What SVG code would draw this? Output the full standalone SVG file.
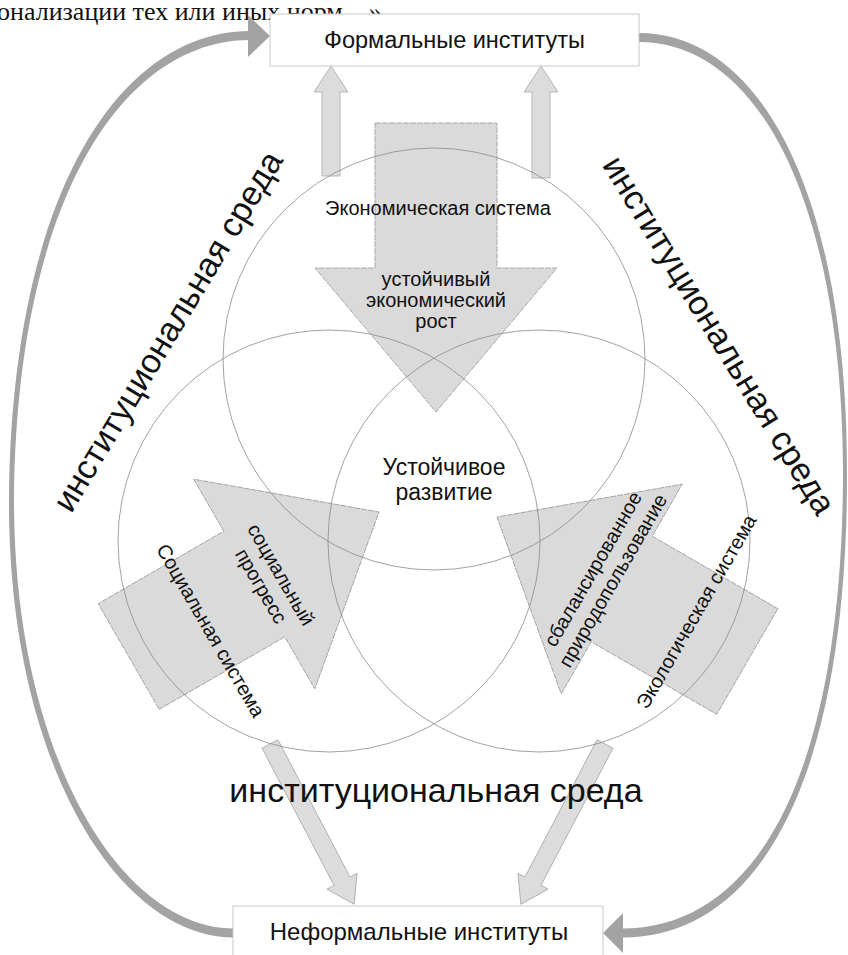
<svg xmlns="http://www.w3.org/2000/svg" width="848" height="955" viewBox="0 0 848 955">
<defs>
<style>
.sans{font-family:"Liberation Sans",Arial,sans-serif;fill:#111}
.lbl{font-size:20px;text-anchor:middle}
.big{font-size:34px;text-anchor:middle}
.box{fill:#fff;stroke:#c8c8c8;stroke-width:1}
.curve{fill:#a3a3a3;stroke:none}
.small{fill:#dcdcdc;stroke:#a8a8a8;stroke-width:0.8}
.bigarrow{fill:#dadada;stroke:#9a9a9a;stroke-width:0.8;stroke-dasharray:6 1}
.circ{fill:none;stroke:#8a8a8a;stroke-width:0.8}
</style>
<polygon id="bigA" points="-61,-289 61,-289 61,-144 121,-144 0,0 -121,-144 -61,-144"/>
</defs>
<rect width="848" height="955" fill="#fff"/>
<text x="-3" y="20" font-family="Liberation Serif, Times New Roman, serif" font-size="26" fill="#111">онализации тех или иных норм ...»</text>

<g id="connectors">
<path class="curve" d="M 250 31 C 118 31, 11 198, 9 500 C 8 762, 118 937.5, 234 937.5 L 234 928.5 C 122 928.5, 14 758, 14 500 C 16 202, 122 40, 250 40 Z"/>
<polygon class="curve" points="248,15 270,36 248,57"/>
<path class="curve" d="M 639 33 C 762 33, 847 198, 847 470 C 848 775, 762 937.5, 622 937.5 L 622 928.5 C 758 928.5, 843 772, 843 470 C 842 202, 758 42, 639 42 Z"/>
<polygon class="curve" points="623,913 603,933 623,953"/>
<polygon class="small" transform="translate(331,176) rotate(-90)" points="0,-9 84,-9 84,-17 110,0 84,17 84,9 0,9"/>
<polygon class="small" transform="translate(541,178) rotate(-90)" points="0,-9 86,-9 86,-17 112,0 86,17 86,9 0,9"/>
<polygon class="small" transform="translate(270,744) rotate(62.3)" points="0,-9 155,-9 155,-17 181,0 155,17 155,9 0,9"/>
<polygon class="small" transform="translate(605,744) rotate(117.7)" points="0,-9 155,-9 155,-17 181,0 155,17 155,9 0,9"/>
</g>

<g id="arrow-econ"><use href="#bigA" class="bigarrow" transform="translate(436,412)"/></g>
<g id="arrow-social"><use href="#bigA" class="bigarrow" transform="translate(379,512) rotate(-120)"/></g>
<g id="arrow-eco"><use href="#bigA" class="bigarrow" transform="translate(497,517) rotate(120)"/></g>

<g id="circle-econ"><circle class="circ" cx="434" cy="359" r="211"/></g>
<g id="circle-social"><circle class="circ" cx="329" cy="541" r="211"/></g>
<g id="circle-eco"><circle class="circ" cx="539" cy="541" r="211"/></g>

<g id="formal">
<rect class="box" x="270" y="14" width="369" height="52"/>
<text class="sans" x="454.5" y="48" font-size="23.5" text-anchor="middle">Формальные институты</text>
</g>
<g id="informal">
<rect class="box" x="233" y="906" width="370" height="60"/>
<text class="sans" x="419" y="940" font-size="24" text-anchor="middle">Неформальные институты</text>
</g>

<g id="econ-labels">
<text class="sans lbl" x="438" y="215">Экономическая система</text>
<text class="sans lbl" x="436" y="286">устойчивый</text>
<text class="sans lbl" x="436" y="307">экономический</text>
<text class="sans lbl" x="436" y="328">рост</text>
</g>
<g id="center-label">
<text class="sans" x="444" y="475" font-size="23" text-anchor="middle">Устойчивое</text>
<text class="sans" x="444" y="500" font-size="23" text-anchor="middle">развитие</text>
</g>
<g id="social-labels">
<g transform="translate(270,581) rotate(60)">
<text class="sans lbl" x="0" y="-6">социальный</text>
<text class="sans lbl" x="0" y="17">прогресс</text>
</g>
<text class="sans lbl" transform="translate(210,631) rotate(60)" x="0" y="6">Социальная система</text>
</g>
<g id="eco-labels">
<g transform="translate(604,575.5) rotate(-60)">
<text class="sans lbl" x="0" y="-6">сбалансированное</text>
<text class="sans lbl" x="0" y="17">природопользование</text>
</g>
<text class="sans lbl" transform="translate(697,612) rotate(-60)" x="0" y="6">Экологическая система</text>
</g>
<g id="env-labels">
<text class="sans big" transform="translate(169,332) rotate(-59)" x="0" y="10">институциональная среда</text>
<text class="sans big" transform="translate(718,336) rotate(58.5)" x="0" y="10">институциональная среда</text>
<text class="sans big" x="436" y="802">институциональная среда</text>
</g>
</svg>
